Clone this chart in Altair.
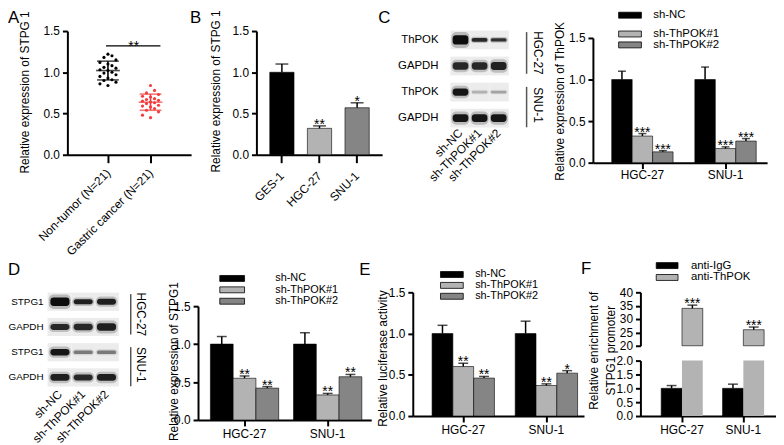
import altair as alt
import pandas as pd

FONT = "Liberation Sans"
W, H = 776, 437


def PX(p):
    return p - 8


def PY(p):
    return p - 8


# ---------------- data ----------------
a_groups = ["Non-tumor (N=21)", "Gastric cancer (N=21)"]
a_nontumor = [1.22, 1.20, 1.18, 1.15, 1.12, 1.10, 1.08, 1.06, 1.05, 1.03, 1.02,
              1.00, 0.99, 0.97, 0.95, 0.93, 0.91, 0.90, 0.88, 0.86, 0.84]
a_gastric = [0.84, 0.78, 0.75, 0.73, 0.71, 0.70, 0.68, 0.67, 0.66, 0.65, 0.64,
             0.63, 0.62, 0.60, 0.59, 0.58, 0.56, 0.54, 0.52, 0.48, 0.45]
a_colors = ["#000000", "#f23c3c"]

b_cells = ["GES-1", "HGC-27", "SNU-1"]
b_means = [1.00, 0.32, 0.57]
b_errs = [0.10, 0.03, 0.06]
b_stars = ["", "**", "*"]
b_colors = ["#000000", "#b3b3b3", "#858585"]

cells = ["HGC-27", "SNU-1"]
sh_series = ["sh-NC", "sh-ThPOK#1", "sh-ThPOK#2"]
sh_colors = ["#000000", "#b3b3b3", "#858585"]

c_means = [[1.00, 0.32, 0.13], [1.00, 0.17, 0.26]]
c_errs = [[0.10, 0.03, 0.015], [0.15, 0.02, 0.03]]
c_stars = [["", "***", "***"], ["", "***", "***"]]

d_means = [[1.00, 0.55, 0.42], [1.00, 0.33, 0.57]]
d_errs = [[0.10, 0.03, 0.02], [0.15, 0.02, 0.03]]
d_stars = [["", "**", "**"], ["", "**", "**"]]

e_means = [[1.00, 0.60, 0.46], [1.00, 0.37, 0.52]]
e_errs = [[0.10, 0.04, 0.02], [0.15, 0.02, 0.03]]
e_stars = [["", "**", "**"], ["", "**", "*"]]

f_series = ["anti-IgG", "anti-ThPOK"]
f_colors = ["#000000", "#b3b3b3"]
f_means = [[1.0, 34.0], [1.0, 26.0]]
f_errs = [[0.10, 1.2], [0.15, 1.0]]
f_stars = [["", "***"], ["", "***"]]

blot_cells = ["HGC-27", "SNU-1"]
c_blot_rows = ["ThPOK", "GAPDH", "ThPOK", "GAPDH"]
c_blot_intensity = [[1.00, 0.85, 0.80], [0.85, 0.85, 0.88], [0.95, 0.22, 0.28], [0.95, 0.95, 0.95]]
c_blot_thickness = [[0.36, 0.14, 0.13], [0.28, 0.28, 0.30], [0.28, 0.10, 0.10], [0.30, 0.30, 0.30]]
d_blot_rows = ["STPG1", "GAPDH", "STPG1", "GAPDH"]
d_blot_intensity = [[1.00, 0.90, 0.90], [0.85, 0.85, 0.90], [0.95, 0.45, 0.45], [0.90, 0.85, 0.90]]
d_blot_thickness = [[0.34, 0.20, 0.24], [0.24, 0.26, 0.30], [0.26, 0.14, 0.14], [0.27, 0.24, 0.27]]


# ---------------- helpers ----------------
def band(domain, a, b, first, bw, step):
    n = len(domain)
    pi = 1 - bw / step
    po = max(0.0, ((b - a) / step - n + pi) / 2)
    free = (b - a) - step * (n - pi)
    al = min(1.0, max(0.0, (first - a) / free)) if free > 0 else 0.5
    return alt.Scale(type="band", domain=domain, range=[PX(a), PX(b)],
                     paddingInner=pi, paddingOuter=po, align=al)


def y_axis(x_page, values, fmt):
    return alt.Axis(orient="left", offset=-PX(x_page), values=values, format=fmt, title=None,
                    grid=False, domainColor="black", domainWidth=2, tickColor="black",
                    tickWidth=2, tickSize=5, labelFont=FONT, labelFontSize=12,
                    labelColor="black", labelPadding=3, labelFlush=False, labelOverlap=False)


def x_axis(y_page, angle=0, pad=1, tick=6):
    kw = dict(orient="bottom", offset=PY(y_page) - H, title=None, grid=False,
              domainColor="black", domainWidth=2, tickColor="black", tickWidth=2,
              tickSize=tick, labelFont=FONT, labelFontSize=12, labelColor="black",
              labelPadding=pad, labelAngle=angle, labelFlush=False, labelOverlap=False)
    if angle:
        kw.update(labelAlign="right", labelBaseline="middle")
    return alt.Axis(**kw)


def text_at(txt, x, y, size=12, angle=0, align="center", baseline="middle"):
    kw = dict(font=FONT, fontSize=size, align=align, baseline=baseline, color="black")
    if angle:
        kw["angle"] = angle
    return alt.Chart(pd.DataFrame({"t": [txt]})).mark_text(**kw).encode(
        x=alt.value(PX(x)), y=alt.value(PY(y)), text="t:N")


def grouped_df(groups, series, means, errs, stars):
    rows = []
    for ci, g in enumerate(groups):
        for si, s in enumerate(series):
            rows.append(dict(cell=g, series=s, value=means[ci][si], err=errs[ci][si],
                             top=means[ci][si] + errs[ci][si], star=stars[ci][si], so=1.0))
    return pd.DataFrame(rows)


def grouped(df, series, colors, xs, ys, xax=None, yax=None, capw=10, star_fs=14, y2=None):
    osc = alt.Scale(type="band", domain=series, paddingInner=0, paddingOuter=0)
    xo = alt.XOffset("series:N", scale=osc)
    col = alt.Color("series:N", scale=alt.Scale(domain=series, range=colors), legend=None)
    benc = dict(x=alt.X("cell:N", scale=xs, axis=xax), xOffset=xo,
                y=alt.Y("value:Q", scale=ys, axis=yax), color=col,
                strokeOpacity=alt.StrokeOpacity("so:Q", scale=None))
    if y2 is not None:
        benc["y2"] = alt.datum(y2)
    bars = alt.Chart(df).mark_bar(stroke="#000000", strokeWidth=0.6).encode(**benc)
    xn = alt.X("cell:N", scale=xs, axis=None)
    edf = df[df["top"].notna()].reset_index(drop=True)
    rule = alt.Chart(edf).mark_rule(color="black", strokeWidth=1.5).encode(
        x=xn, xOffset=xo, y=alt.Y("value:Q", scale=ys, axis=None), y2="top:Q")
    cap = alt.Chart(edf).mark_tick(color="black", thickness=1.5, size=capw).encode(
        x=xn, xOffset=xo, y=alt.Y("top:Q", scale=ys, axis=None))
    st = alt.Chart(edf).mark_text(font=FONT, fontSize=star_fs, baseline="alphabetic", dy=3,
                                  color="black").encode(
        x=xn, xOffset=xo, y=alt.Y("top:Q", scale=ys, axis=None), text="star:N")
    return [bars, rule, cap, st]


def legend(items, colors, x0, x1, xt, centers, bw=6, fs=11.5):
    out = []
    for item, colr, cy in zip(items, colors, centers):
        df = pd.DataFrame({"item": [item]})
        out.append(alt.Chart(df).mark_rect(stroke="black", strokeWidth=0.8, color=colr).encode(
            x=alt.value(PX(x0)), x2=alt.value(PX(x1)),
            y=alt.value(PY(cy - bw / 2)), y2=alt.value(PY(cy + bw / 2))))
        out.append(alt.Chart(df).mark_text(align="left", baseline="middle", font=FONT,
                                           fontSize=fs, color="black").encode(
            x=alt.value(PX(xt)), y=alt.value(PY(cy)), text="item:N"))
    return out


def blot(rows, inten, thick, x0, x1, ytop, ybot, label_x, bracket_x, cell_x, lane_y, label_fs=11.5):
    n = len(rows)
    ys = alt.Scale(domain=[0, n], range=[PY(ytop), PY(ybot)], nice=False, zero=False)
    lane_bg = alt.Scale(type="band", domain=sh_series, range=[PX(x0), PX(x1)],
                        paddingInner=0, paddingOuter=0)
    lane_halo = alt.Scale(type="band", domain=sh_series, range=[PX(x0), PX(x1)],
                          paddingInner=0.06, paddingOuter=0.05)
    lane_bd = alt.Scale(type="band", domain=sh_series, range=[PX(x0), PX(x1)],
                        paddingInner=0.18, paddingOuter=0.12)
    recs = []
    for r in range(n):
        for li, lane in enumerate(sh_series):
            recs.append(dict(row=r, lane=lane, inten=inten[r][li], thick=thick[r][li]))
    df = pd.DataFrame(recs)
    bg = alt.Chart(df).transform_calculate(
        y0="datum.row + 0.14", y1="datum.row + 0.86").mark_rect(color="#ececec").encode(
        x=alt.X("lane:N", scale=lane_bg, axis=None),
        y=alt.Y("y0:Q", scale=ys, axis=None), y2="y1:Q")
    halo = alt.Chart(df).transform_calculate(
        y0="datum.row + 0.5 - datum.thick * 0.85", y1="datum.row + 0.5 + datum.thick * 0.85",
        op="datum.inten * 0.28").mark_rect(color="#333333", cornerRadius=5).encode(
        x=alt.X("lane:N", scale=lane_halo, axis=None),
        y=alt.Y("y0:Q", scale=ys, axis=None), y2="y1:Q",
        opacity=alt.Opacity("op:Q", scale=None))
    core = alt.Chart(df).transform_calculate(
        y0="datum.row + 0.5 - datum.thick * 0.5", y1="datum.row + 0.5 + datum.thick * 0.5"
    ).mark_rect(color="#0d0d0d", cornerRadius=3).encode(
        x=alt.X("lane:N", scale=lane_bd, axis=None),
        y=alt.Y("y0:Q", scale=ys, axis=None), y2="y1:Q",
        opacity=alt.Opacity("inten:Q", scale=None))
    lab_df = pd.DataFrame({"label": rows, "row": list(range(n))})
    labs = alt.Chart(lab_df).transform_calculate(yc="datum.row + 0.5").mark_text(
        align="right", baseline="middle", font=FONT, fontSize=label_fs, color="black").encode(
        x=alt.value(PX(label_x)), y=alt.Y("yc:Q", scale=ys, axis=None), text="label:N")
    br_df = pd.DataFrame({"cell": blot_cells, "r0": [0.2, 2.3], "r1": [1.8, 3.85], "rc": [1.0, 3.0]})
    br = alt.Chart(br_df).mark_rule(color="#555555", strokeWidth=1.5).encode(
        x=alt.value(PX(bracket_x)), y=alt.Y("r0:Q", scale=ys, axis=None), y2="r1:Q")
    cl = alt.Chart(br_df).mark_text(angle=90, align="center", baseline="middle", font=FONT,
                                    fontSize=12, color="black").encode(
        x=alt.value(PX(cell_x)), y=alt.Y("rc:Q", scale=ys, axis=None), text="cell:N")
    ll = alt.Chart(pd.DataFrame({"lane": sh_series})).mark_text(
        angle=315, align="right", baseline="middle", font=FONT, fontSize=12, color="black").encode(
        x=alt.X("lane:N", scale=lane_bd, axis=None), y=alt.value(PY(lane_y)), text="lane:N")
    return [bg, halo, core, labs, br, cl, ll]


layers = []

# ---------------- Panel A ----------------
spread = [0.0, -0.9, 0.9, -0.45, 0.45]
a_rows = []
for g, vals in zip(a_groups, [a_nontumor, a_gastric]):
    order = sorted(range(len(vals)), key=lambda i: vals[i])
    for rank, i in enumerate(order):
        a_rows.append(dict(group=g, value=vals[i], jit=spread[rank % len(spread)]))
a_df = pd.DataFrame(a_rows)
a_xs = alt.Scale(type="point", domain=a_groups, range=[PX(68), PX(193)], padding=0.953, align=0.5)
a_ys = alt.Scale(domain=[0, 1.5], range=[PY(154), PY(29)], nice=False, zero=False)
a_col = alt.Color("group:N", scale=alt.Scale(domain=a_groups, range=a_colors), legend=None)
layers.append(alt.Chart(a_df).mark_circle(size=10, opacity=1).encode(
    x=alt.X("group:N", scale=a_xs, axis=x_axis(154, angle=-45, pad=8, tick=8)),
    xOffset=alt.XOffset("jit:Q", scale=alt.Scale(domain=[-1, 1], range=[-9, 9])),
    y=alt.Y("value:Q", scale=a_ys, axis=y_axis(68, [0, 0.5, 1.0, 1.5], ".1f")),
    color=a_col))
a_stat = alt.Chart(a_df).transform_aggregate(
    m="mean(value)", sd="stdev(value)", groupby=["group"]).transform_calculate(
    lo="datum.m - datum.sd", hi="datum.m + datum.sd")
layers.append(a_stat.mark_tick(thickness=1.6, size=24).encode(
    x=alt.X("group:N", scale=a_xs, axis=None), y=alt.Y("m:Q", scale=a_ys, axis=None), color=a_col))
layers.append(a_stat.mark_tick(thickness=1.6, size=22).encode(
    x=alt.X("group:N", scale=a_xs, axis=None), y=alt.Y("lo:Q", scale=a_ys, axis=None), color=a_col))
layers.append(a_stat.mark_tick(thickness=1.6, size=22).encode(
    x=alt.X("group:N", scale=a_xs, axis=None), y=alt.Y("hi:Q", scale=a_ys, axis=None), color=a_col))
layers.append(a_stat.mark_rule(strokeWidth=1.6).encode(
    x=alt.X("group:N", scale=a_xs, axis=None), y=alt.Y("lo:Q", scale=a_ys, axis=None),
    y2="hi:Q", color=a_col))
layers.append(alt.Chart(pd.DataFrame({"k": [0]})).mark_rule(color="black", strokeWidth=1.2).encode(
    x=alt.value(PX(107)), x2=alt.value(PX(162)), y=alt.value(PY(44))))
layers.append(text_at("**", 135, 49, size=14, baseline="alphabetic"))
layers.append(text_at("Relative expression of STPG 1", 25, 91, angle=270))
layers.append(text_at("A", 8, 8, size=17, align="left", baseline="top"))

# ---------------- Panel B ----------------
b_df = pd.DataFrame(dict(cell=b_cells, value=b_means, err=b_errs,
                         top=[m + e for m, e in zip(b_means, b_errs)], star=b_stars))
b_xs = band(b_cells, 259, 386, 272.5, 24.5, 38)
b_ys = alt.Scale(domain=[0, 1.5], range=[PY(154), PY(29)], nice=False, zero=False)
layers.append(alt.Chart(b_df).mark_bar(stroke="black", strokeWidth=0.6).encode(
    x=alt.X("cell:N", scale=b_xs, axis=x_axis(154, angle=-45, pad=11, tick=8)),
    y=alt.Y("value:Q", scale=b_ys, axis=y_axis(259, [0, 0.5, 1.0, 1.5], ".1f")),
    color=alt.Color("cell:N", scale=alt.Scale(domain=b_cells, range=b_colors), legend=None)))
layers.append(alt.Chart(b_df).mark_rule(color="black", strokeWidth=1.5).encode(
    x=alt.X("cell:N", scale=b_xs, axis=None), y=alt.Y("value:Q", scale=b_ys, axis=None), y2="top:Q"))
layers.append(alt.Chart(b_df).mark_tick(color="black", thickness=1.5, size=13).encode(
    x=alt.X("cell:N", scale=b_xs, axis=None), y=alt.Y("top:Q", scale=b_ys, axis=None)))
layers.append(alt.Chart(b_df).mark_text(font=FONT, fontSize=14, baseline="alphabetic", dy=3,
                                        color="black").encode(
    x=alt.X("cell:N", scale=b_xs, axis=None), y=alt.Y("top:Q", scale=b_ys, axis=None), text="star:N"))
layers.append(text_at("Relative expression of STPG 1", 218, 90, angle=270))
layers.append(text_at("B", 192, 8, size=17, align="left", baseline="top"))

# ---------------- Panel C ----------------
layers += blot(c_blot_rows, c_blot_intensity, c_blot_thickness, 455, 514, 24.8, 130.2,
               443, 532, 543, 130)
layers.append(text_at("C", 382, 8, size=17, align="left", baseline="top"))
c_df = grouped_df(cells, sh_series, c_means, c_errs, c_stars)
c_xs = band(cells, 599, 775, 618, 62, 84)
c_ys = alt.Scale(domain=[0, 1.5], range=[PY(162), PY(36)], nice=False, zero=False)
layers += grouped(c_df, sh_series, sh_colors, c_xs, c_ys, xax=x_axis(162),
                  yax=y_axis(599, [0, 0.5, 1.0, 1.5], ".1f"), capw=8)
layers += legend(sh_series, sh_colors, 625, 648, 660, [13, 32, 43])
layers.append(text_at("Relative expression of ThPOK", 566, 100, angle=270))

# ---------------- Panel D ----------------
layers += blot(d_blot_rows, d_blot_intensity, d_blot_thickness, 48, 120, 289.75, 391.75,
               44, 132, 142, 394, label_fs=10)
layers.append(text_at("D", 8, 262, size=17, align="left", baseline="top"))
d_df = grouped_df(cells, sh_series, d_means, d_errs, d_stars)
d_xs = band(cells, 200, 375, 212.5, 69, 84)
d_ys = alt.Scale(domain=[0, 1.5], range=[PY(422), PY(307)], nice=False, zero=False)
layers += grouped(d_df, sh_series, sh_colors, d_xs, d_ys, xax=x_axis(422, pad=3),
                  yax=y_axis(200, [0, 0.5, 1.0, 1.5], ".1f"), capw=10)
layers += legend(sh_series, sh_colors, 222, 247, 278, [279, 290.5, 302], fs=11)
layers.append(text_at("Relative expression of STPG1", 176, 363, angle=270))

# ---------------- Panel E ----------------
layers.append(text_at("E", 363, 262, size=17, align="left", baseline="top"))
e_df = grouped_df(cells, sh_series, e_means, e_errs, e_stars)
e_xs = band(cells, 417, 590, 436.5, 63, 84)
e_ys = alt.Scale(domain=[0, 1.5], range=[PY(418), PY(293)], nice=False, zero=False)
layers += grouped(e_df, sh_series, sh_colors, e_xs, e_ys, xax=x_axis(418, pad=3),
                  yax=y_axis(417, [0, 0.5, 1.0, 1.5], ".1f"), capw=10)
layers += legend(sh_series, sh_colors, 445, 468, 480, [275, 286, 297], fs=11)
layers.append(text_at("Relative luciferase activity", 387, 360, angle=270))

# ---------------- Panel F ----------------
layers.append(text_at("F", 587, 261, size=17, align="left", baseline="top"))
f_df = grouped_df(cells, f_series, f_means, f_errs, f_stars)
f_xs = band(cells, 647, 784, 668, 42, 62)
f_lo = alt.Scale(domain=[0, 2], range=[PY(418), PY(362)], nice=False, zero=False, clamp=True)
f_hi = alt.Scale(domain=[20, 40], range=[PY(347), PY(293)], nice=False, zero=False)
f_low_df = f_df.copy()
big = f_low_df["top"] > 2
f_low_df.loc[big, "top"] = float("nan")
f_low_df.loc[big, "so"] = 0.0
f_low_df["star"] = ""
layers += grouped(f_low_df, f_series, f_colors, f_xs, f_lo, xax=x_axis(418, pad=3),
                  yax=y_axis(647, [0, 0.5, 1.0, 1.5, 2.0], ".1f"), capw=10)
f_up_df = f_df[f_df["value"] > 20].reset_index(drop=True)
layers += grouped(f_up_df, f_series, f_colors, f_xs, f_hi, xax=None,
                  yax=y_axis(647, [20, 25, 30, 35, 40], "d"), capw=10, y2=20)
layers += legend(f_series, f_colors, 663, 685, 698, [266, 278])
layers.append(text_at("Relative enrichment of", 600, 352, angle=270))
layers.append(text_at("STPG1 promoter", 617, 352, angle=270))

chart = alt.layer(*layers).resolve_scale(
    x="independent", y="independent", color="independent", opacity="independent",
    xOffset="independent", strokeOpacity="independent").properties(
    width=W, height=H, padding=0, autosize=alt.AutoSizeParams(type="none")
).configure_view(stroke=None)

chart.save("out.html", embed_options={"renderer": "svg", "actions": False})
